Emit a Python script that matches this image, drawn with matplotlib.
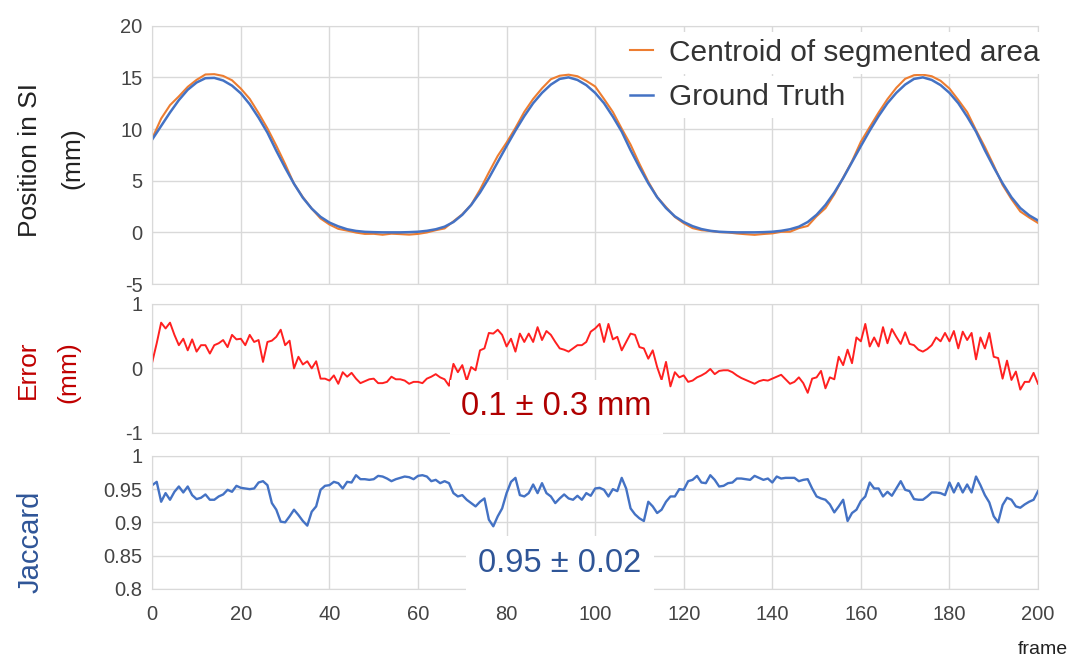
import numpy as np
import matplotlib.pyplot as plt

# frame index
frames = np.arange(0, 201)
frames_pos = np.arange(0, 201, 2)

# position in SI (mm), every 2 frames
ground_truth = [
    9.0, 10.3, 11.6, 12.8, 13.8, 14.5, 14.92, 14.95, 14.7, 14.2,
    13.45, 12.4, 11.1, 9.65, 7.9, 6.25, 4.7, 3.35, 2.3, 1.5,
    0.95, 0.58, 0.3, 0.14, 0.05, 0.02, 0.0, 0.0, 0.0, 0.02,
    0.06, 0.15, 0.3, 0.55, 1.0, 1.7, 2.65, 3.85, 5.25, 6.8,
    8.35, 9.85, 11.25, 12.5, 13.5, 14.3, 14.85, 15.0, 14.75, 14.25,
    13.5, 12.5, 11.2, 9.75, 7.95, 6.3, 4.75, 3.4, 2.35, 1.55,
    1.0, 0.6, 0.32, 0.15, 0.06, 0.02, 0.0, 0.0, 0.0, 0.02,
    0.06, 0.15, 0.3, 0.55, 1.0, 1.7, 2.65, 3.85, 5.25, 6.8,
    8.35, 9.85, 11.25, 12.5, 13.5, 14.3, 14.85, 15.0, 14.75, 14.25,
    13.5, 12.5, 11.2, 9.75, 7.95, 6.3, 4.75, 3.4, 2.35, 1.65,
    1.15,
]
centroid = [
    9.10, 11.01, 12.31, 13.16, 14.08, 14.76, 15.28, 15.31, 15.14, 14.72,
    13.91, 12.92, 11.54, 10.06, 8.39, 6.61, 4.70, 3.41, 2.30, 1.34,
    0.76, 0.34, 0.17, -0.02, -0.15, -0.14, -0.23, -0.13, -0.17, -0.22,
    -0.15, -0.01, 0.21, 0.38, 1.07, 1.75, 2.67, 4.13, 5.80, 7.40,
    8.69, 10.11, 11.66, 12.91, 13.94, 14.82, 15.16, 15.26, 15.11, 14.66,
    14.12, 12.91, 11.65, 10.03, 8.49, 6.63, 4.90, 3.42, 2.45, 1.49,
    0.89, 0.41, 0.21, 0.14, 0.02, -0.01, -0.11, -0.18, -0.24, -0.16,
    -0.10, 0.05, 0.06, 0.41, 0.62, 1.56, 2.34, 3.68, 5.30, 6.88,
    8.77, 10.19, 11.59, 12.89, 13.99, 14.86, 15.21, 15.26, 15.11, 14.67,
    13.92, 12.81, 11.64, 9.89, 8.26, 6.48, 4.59, 3.22, 2.02, 1.44,
    0.91,
]

# error (mm), every frame
error = [
    0.10, 0.39, 0.71, 0.62, 0.71, 0.52, 0.36, 0.46, 0.28, 0.45,
    0.26, 0.36, 0.36, 0.23, 0.36, 0.39, 0.44, 0.33, 0.52, 0.45,
    0.46, 0.36, 0.52, 0.41, 0.44, 0.10, 0.41, 0.43, 0.49, 0.60,
    0.36, 0.43, 0.00, 0.18, 0.06, 0.11, 0.00, 0.11, -0.16, -0.16,
    -0.19, -0.11, -0.24, -0.06, -0.13, -0.07, -0.16, -0.23, -0.20, -0.17,
    -0.16, -0.23, -0.23, -0.21, -0.13, -0.17, -0.17, -0.19, -0.24, -0.21,
    -0.21, -0.23, -0.16, -0.13, -0.09, -0.14, -0.17, -0.27, 0.07, -0.06,
    0.05, -0.19, 0.02, -0.03, 0.28, 0.31, 0.55, 0.54, 0.60, 0.52,
    0.34, 0.46, 0.26, 0.54, 0.41, 0.54, 0.41, 0.64, 0.44, 0.58,
    0.52, 0.41, 0.31, 0.29, 0.26, 0.31, 0.36, 0.36, 0.41, 0.57,
    0.62, 0.69, 0.41, 0.69, 0.45, 0.49, 0.28, 0.41, 0.54, 0.52,
    0.33, 0.31, 0.15, 0.28, 0.02, -0.18, 0.10, -0.28, -0.06, -0.14,
    -0.11, -0.21, -0.19, -0.14, -0.11, -0.07, -0.01, -0.09, -0.04, -0.03,
    -0.03, -0.06, -0.11, -0.15, -0.18, -0.21, -0.24, -0.20, -0.18, -0.19,
    -0.16, -0.13, -0.10, -0.17, -0.24, -0.21, -0.14, -0.23, -0.38, -0.16,
    -0.14, -0.04, -0.31, -0.14, -0.17, 0.18, 0.05, 0.29, 0.08, 0.48,
    0.42, 0.69, 0.34, 0.48, 0.34, 0.64, 0.39, 0.61, 0.49, 0.38,
    0.56, 0.38, 0.36, 0.29, 0.26, 0.30, 0.36, 0.48, 0.42, 0.55,
    0.42, 0.58, 0.31, 0.57, 0.44, 0.55, 0.14, 0.48, 0.31, 0.55,
    0.18, 0.16, -0.16, 0.12, -0.18, -0.05, -0.33, -0.21, -0.21, -0.07,
    -0.24,
]

# jaccard index, every frame
jaccard = [
    0.956, 0.961, 0.931, 0.944, 0.934, 0.946, 0.954, 0.945, 0.954, 0.941,
    0.935, 0.937, 0.942, 0.934, 0.934, 0.939, 0.942, 0.949, 0.946, 0.955,
    0.952, 0.951, 0.950, 0.951, 0.960, 0.962, 0.956, 0.929, 0.919, 0.901,
    0.900, 0.909, 0.919, 0.911, 0.902, 0.895, 0.916, 0.924, 0.949, 0.955,
    0.956, 0.961, 0.959, 0.951, 0.961, 0.960, 0.971, 0.965, 0.965, 0.964,
    0.965, 0.970, 0.969, 0.966, 0.962, 0.965, 0.967, 0.969, 0.968, 0.965,
    0.970, 0.971, 0.969, 0.962, 0.964, 0.959, 0.962, 0.959, 0.944, 0.939,
    0.941, 0.934, 0.929, 0.924, 0.931, 0.936, 0.904, 0.894, 0.909, 0.921,
    0.944, 0.961, 0.967, 0.941, 0.939, 0.944, 0.957, 0.944, 0.959, 0.944,
    0.939, 0.929, 0.936, 0.942, 0.936, 0.934, 0.940, 0.934, 0.944, 0.940,
    0.951, 0.952, 0.949, 0.939, 0.950, 0.947, 0.967, 0.951, 0.921, 0.912,
    0.906, 0.902, 0.931, 0.924, 0.914, 0.919, 0.931, 0.939, 0.939, 0.950,
    0.949, 0.962, 0.964, 0.970, 0.960, 0.959, 0.971, 0.964, 0.954, 0.955,
    0.959, 0.960, 0.966, 0.966, 0.965, 0.964, 0.970, 0.967, 0.964, 0.966,
    0.960, 0.969, 0.966, 0.967, 0.967, 0.967, 0.962, 0.964, 0.965, 0.951,
    0.939, 0.936, 0.934, 0.927, 0.915, 0.924, 0.934, 0.902, 0.914, 0.919,
    0.932, 0.939, 0.960, 0.951, 0.951, 0.939, 0.946, 0.940, 0.951, 0.962,
    0.949, 0.947, 0.935, 0.934, 0.934, 0.939, 0.945, 0.945, 0.944, 0.941,
    0.960, 0.945, 0.959, 0.945, 0.957, 0.945, 0.969, 0.956, 0.941, 0.930,
    0.909, 0.900, 0.926, 0.937, 0.934, 0.924, 0.922, 0.927, 0.931, 0.934,
    0.947,
]

x_ticks = [0, 20, 40, 60, 80, 100, 120, 140, 160, 180, 200]
pos_ticks = [-5, 0, 5, 10, 15, 20]
err_ticks = [-1, 0, 1]
jac_ticks = [0.8, 0.85, 0.9, 0.95, 1.0]
jac_labels = ["0.8", "0.85", "0.9", "0.95", "1"]

plt.rcParams["font.family"] = ["Liberation Sans", "DejaVu Sans"]
plt.rcParams["axes.unicode_minus"] = False

fig = plt.figure(figsize=(10.77, 6.59), dpi=100)
ax1 = fig.add_axes([0.1414, 0.569, 0.8224, 0.392])
ax2 = fig.add_axes([0.1414, 0.3434, 0.8224, 0.1953])
ax3 = fig.add_axes([0.1414, 0.1067, 0.8224, 0.2014])

grid_color = "#d9d9d9"
for ax in (ax1, ax2, ax3):
    ax.set_xlim(0, 200)
    ax.set_xticks(x_ticks)
    ax.grid(True, color=grid_color, lw=1)
    ax.set_axisbelow(True)
    for s in ax.spines.values():
        s.set_color(grid_color)
    ax.tick_params(length=0, labelsize=14.5, labelcolor="#444444", pad=7)
ax1.tick_params(axis="x", labelbottom=False)
ax2.tick_params(axis="x", labelbottom=False)
ax3.tick_params(axis="x", pad=12)

# position
ax1.plot(frames_pos, centroid, color="#ed7d31", lw=1.5, label="Centroid of segmented area")
ax1.plot(frames_pos, ground_truth, color="#4472c4", lw=1.8, label="Ground Truth")
ax1.set_ylim(-5, 20)
ax1.set_yticks(pos_ticks)
leg = ax1.legend(loc="upper left", bbox_to_anchor=(0.566, 0.973), bbox_transform=fig.transFigure,
                 fontsize=21.5, frameon=False, borderpad=0.2, handlelength=0.75,
                 handletextpad=0.55, labelspacing=0.55, labelcolor="#333333")
for t in leg.get_texts():
    t.set_bbox(dict(facecolor="white", edgecolor="none", pad=5))

# error
ax2.plot(frames, error, color="#ff2020", lw=1.4)
ax2.set_ylim(-1, 1)
ax2.set_yticks(err_ticks)
ax2.text(91.3, -0.6, "0.1 \u00b1 0.3 mm", color="#b00000", fontsize=23.5,
         ha="center", va="center",
         bbox=dict(facecolor="white", edgecolor="none", pad=8))

# jaccard
ax3.plot(frames, jaccard, color="#4472c4", lw=1.7)
ax3.set_ylim(0.8, 1.0)
ax3.set_yticks(jac_ticks)
ax3.set_yticklabels(jac_labels)
ax3.text(92, 0.838, "0.95 \u00b1 0.02", color="#2f5597", fontsize=23.5,
         ha="center", va="center",
         bbox=dict(facecolor="white", edgecolor="none", pad=9))

# axis titles
fig.text(0.0279, 0.757, "Position in SI", rotation=90, ha="center", va="center",
         fontsize=19, color="#222222")
fig.text(0.0669, 0.760, "(mm)", rotation=90, ha="center", va="center",
         fontsize=19, color="#222222")
fig.text(0.026, 0.4385, "Error", rotation=90, ha="center", va="center",
         fontsize=19, color="#c00000")
fig.text(0.0631, 0.4355, "(mm)", rotation=90, ha="center", va="center",
         fontsize=19, color="#c00000")
fig.text(0.0279, 0.1775, "Jaccard", rotation=90, ha="center", va="center",
         fontsize=21, color="#2f5597")
fig.text(0.968, 0.0137, "frame", ha="center", va="center", fontsize=14, color="#222222")

fig.savefig("out.png", dpi=100)
